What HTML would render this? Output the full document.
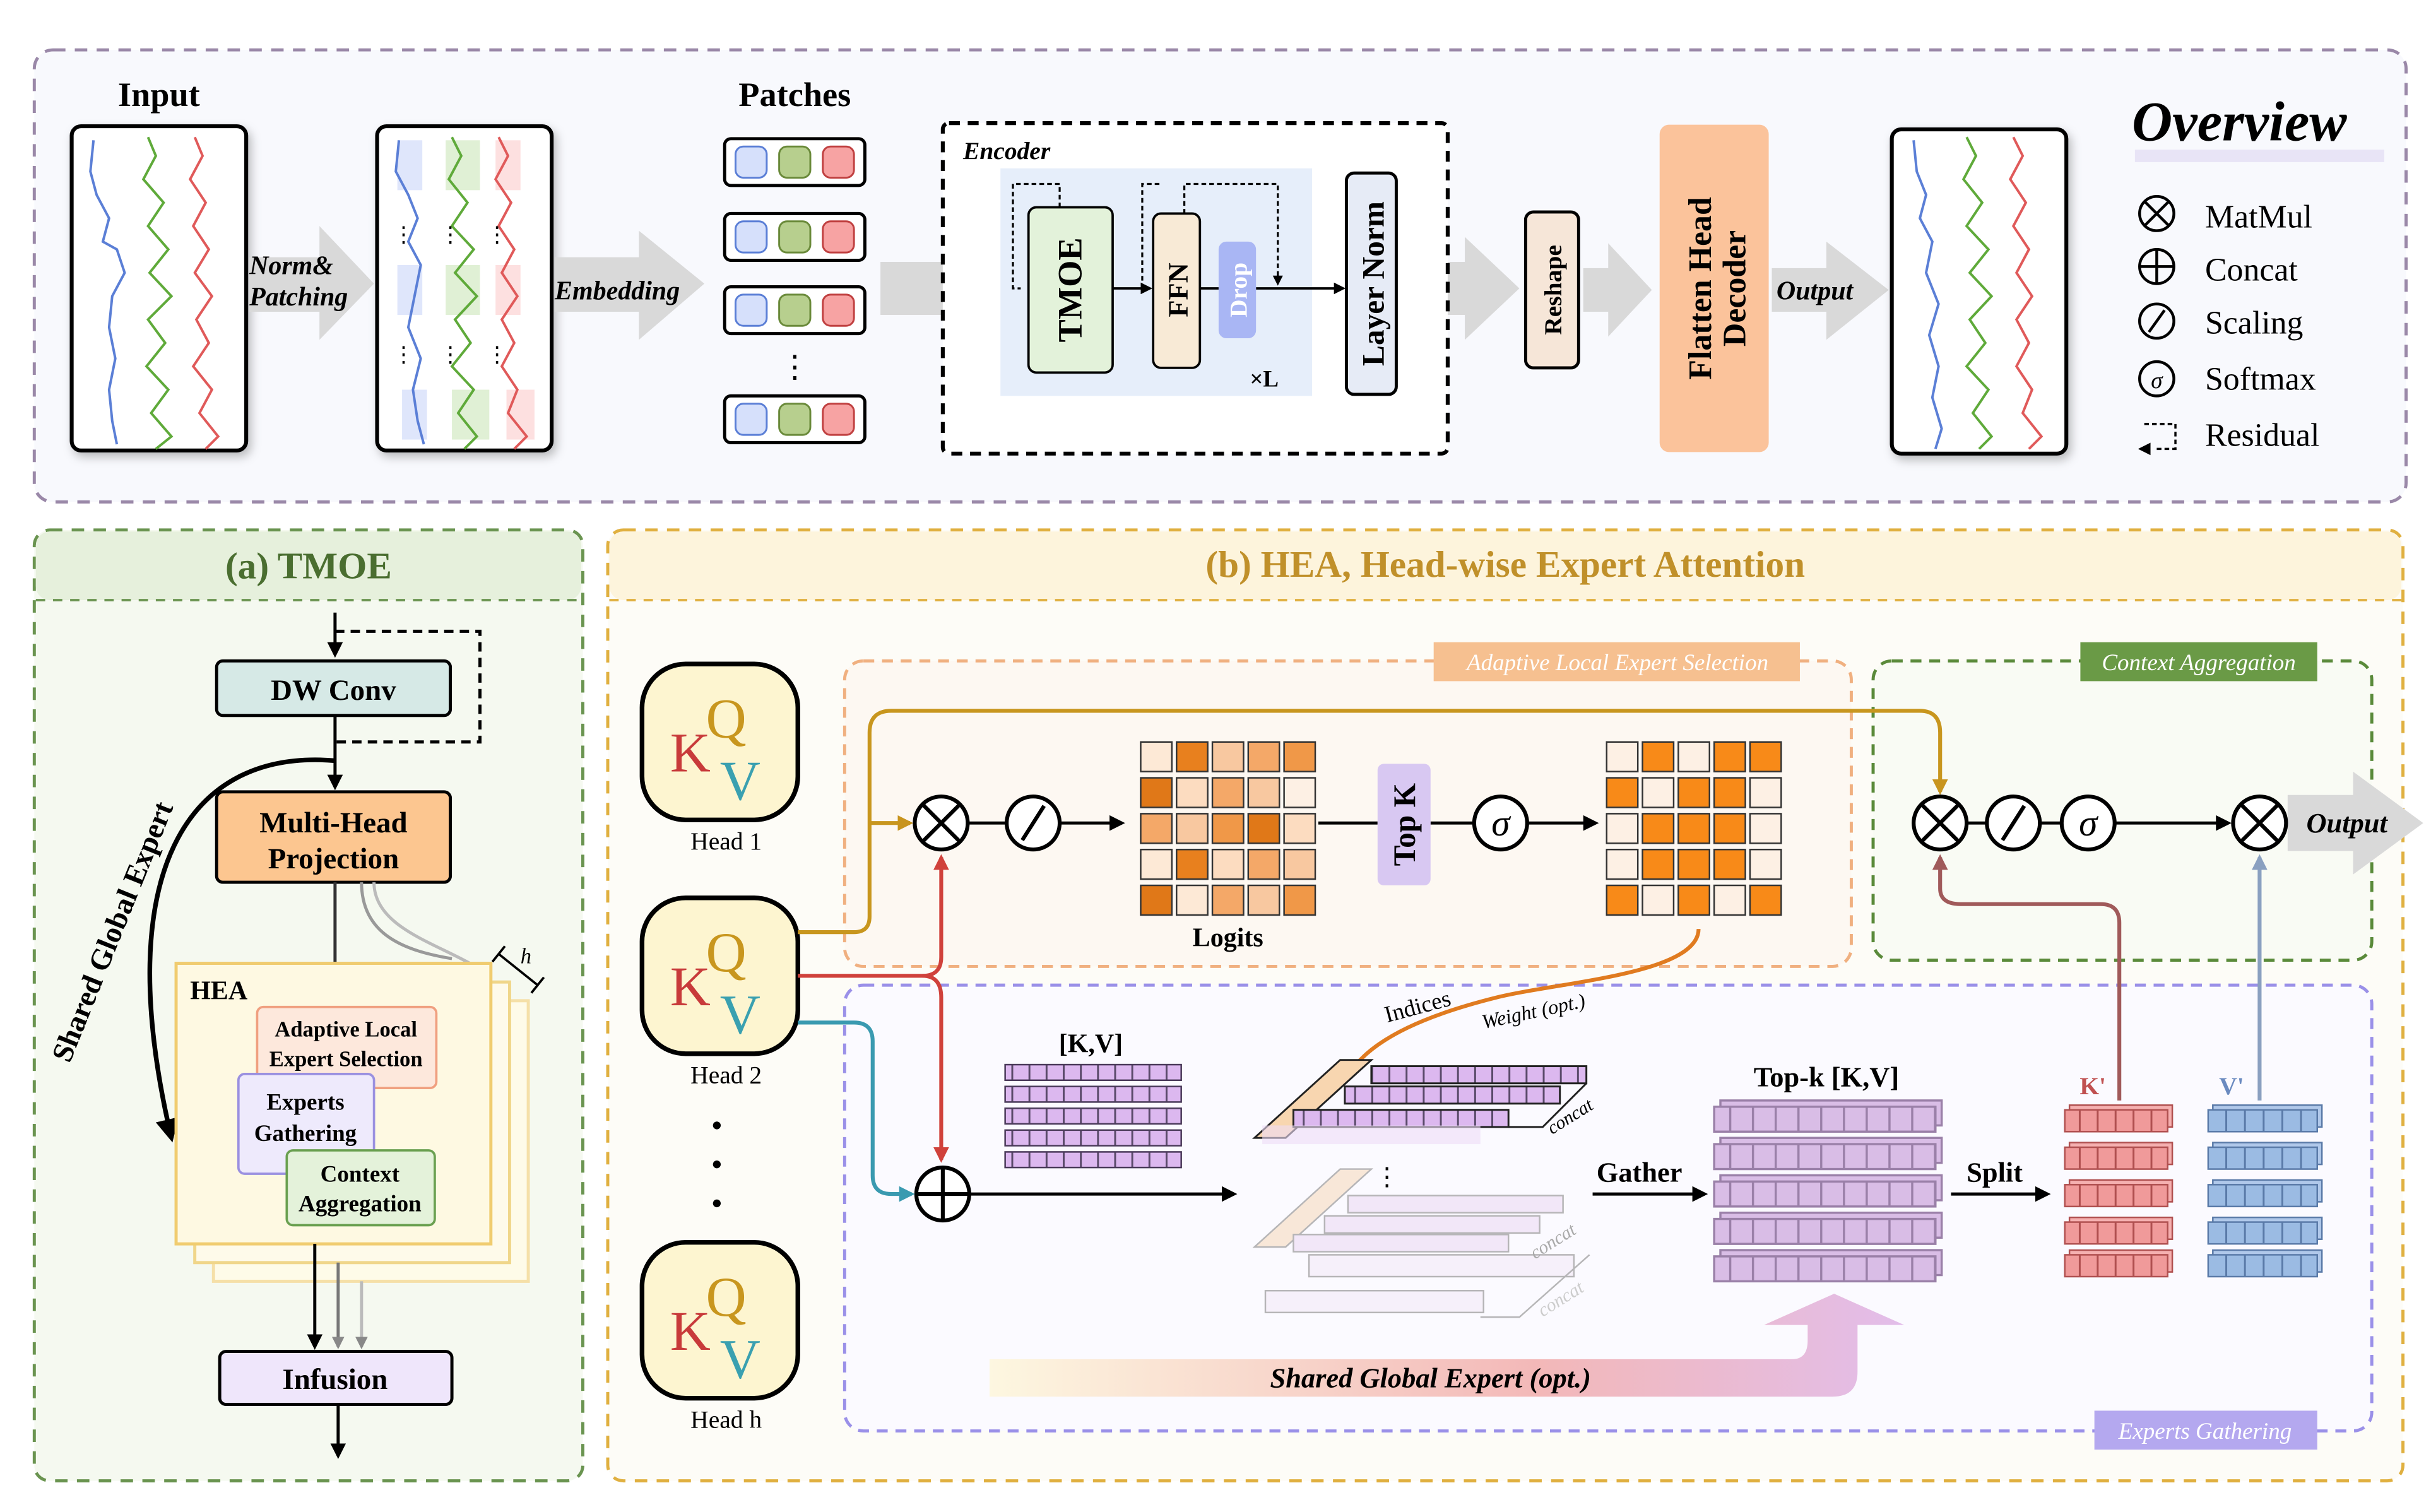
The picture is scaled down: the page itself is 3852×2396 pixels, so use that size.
<!DOCTYPE html>
<html><head><meta charset="utf-8"><style>
html,body{margin:0;padding:0;background:#fff}
svg{display:block}
text{font-family:"Liberation Serif",serif}
</style></head><body>
<svg width="3852" height="2396" viewBox="0 0 1560 970" preserveAspectRatio="none" xmlns="http://www.w3.org/2000/svg">
<defs>
<marker id="ah" viewBox="0 0 10 10" refX="8" refY="5" markerWidth="5" markerHeight="5" orient="auto"><path d="M0,0L10,5L0,10z" fill="#000"/></marker>
<marker id="ahr" viewBox="0 0 10 10" refX="8" refY="5" markerWidth="4" markerHeight="4" orient="auto"><path d="M0,0L10,5L0,10z" fill="#d0413b"/></marker>
<marker id="aho" viewBox="0 0 10 10" refX="8" refY="5" markerWidth="4" markerHeight="4" orient="auto"><path d="M0,0L10,5L0,10z" fill="#c8941e"/></marker>
<marker id="ahb" viewBox="0 0 10 10" refX="8" refY="5" markerWidth="4" markerHeight="4" orient="auto"><path d="M0,0L10,5L0,10z" fill="#3a9ab0"/></marker>
<marker id="ahk" viewBox="0 0 10 10" refX="8" refY="5" markerWidth="4" markerHeight="4" orient="auto"><path d="M0,0L10,5L0,10z" fill="#a05a5a"/></marker>
<marker id="ahv" viewBox="0 0 10 10" refX="8" refY="5" markerWidth="4" markerHeight="4" orient="auto"><path d="M0,0L10,5L0,10z" fill="#8aa0c0"/></marker>
<marker id="ahor" viewBox="0 0 10 10" refX="8" refY="5" markerWidth="4" markerHeight="4" orient="auto"><path d="M0,0L10,5L0,10z" fill="#e07b20"/></marker>
<marker id="ahg" viewBox="0 0 10 10" refX="8" refY="5" markerWidth="4" markerHeight="4" orient="auto"><path d="M0,0L10,5L0,10z" fill="#888"/></marker>
<pattern id="cellP" width="11" height="12" patternUnits="userSpaceOnUse"><rect width="11" height="12" fill="#dcb8ef"/><rect width="1.2" height="12" fill="#5a4a6a"/></pattern>
<pattern id="cellT" width="14.6" height="16" patternUnits="userSpaceOnUse"><rect width="14.6" height="16" fill="#d9bde6"/><rect width="1.4" height="16" fill="#9a80a8"/></pattern>
<pattern id="cellK" width="11.5" height="14" patternUnits="userSpaceOnUse"><rect width="11.5" height="14" fill="#f09a9a"/><rect width="1.2" height="14" fill="#b05050"/></pattern>
<pattern id="cellV" width="12" height="14" patternUnits="userSpaceOnUse"><rect width="12" height="14" fill="#9bbbe3"/><rect width="1.2" height="14" fill="#5a7aa8"/></pattern>
<linearGradient id="sge" x1="0" x2="1"><stop offset="0" stop-color="#fdf7e0"/><stop offset="0.6" stop-color="#f3b8b8"/><stop offset="1" stop-color="#e2bdea"/></linearGradient>
<filter id="sh"><feDropShadow dx="2" dy="3" stdDeviation="3" flood-opacity="0.25"/></filter>
</defs>

<rect x="22" y="32" width="1522" height="290" rx="12" fill="#f8f9fd" stroke="#9a88a8" stroke-width="2" stroke-dasharray="8,6"/>
<text x="102" y="68" font-size="22" font-weight="bold" text-anchor="middle">Input</text>
<text x="510" y="68" font-size="22" font-weight="bold" text-anchor="middle">Patches</text>
<text x="1437" y="90" font-size="36" font-weight="bold" font-style="italic" text-anchor="middle">Overview</text>
<rect x="1370" y="96" width="160" height="8" fill="#e8e4f6"/>

<g filter="url(#sh)"><rect x="46" y="81" width="112" height="208" rx="6" fill="#fff" stroke="#000" stroke-width="2.5"/></g>
<polyline fill="none" stroke="#5b7fd6" stroke-width="1.6" points="60,90 58,110 62,125 70,140 66,155 75,160 80,175 72,190 70,210 74,230 70,250 72,270 75,285"/>
<polyline fill="none" stroke="#5faa3a" stroke-width="1.6" points="95,88 100,100 92,115 105,130 95,145 108,160 96,175 110,190 95,205 106,220 94,235 108,250 97,265 110,280 100,288"/>
<polyline fill="none" stroke="#e05a5a" stroke-width="1.6" points="125,88 130,100 122,115 132,130 124,145 134,160 125,175 136,190 126,205 134,220 124,235 136,250 128,265 140,280 132,288"/>
<g filter="url(#sh)"><rect x="242" y="81" width="112" height="208" rx="6" fill="#fff" stroke="#000" stroke-width="2.5"/></g>
<rect x="255" y="90" width="16" height="32" fill="#dfe6fb"/><rect x="286" y="90" width="22" height="32" fill="#e0f0d5"/><rect x="318" y="90" width="16" height="32" fill="#fde0e0"/>
<rect x="255" y="170" width="16" height="32" fill="#dfe6fb"/><rect x="286" y="170" width="22" height="32" fill="#e0f0d5"/><rect x="318" y="170" width="16" height="32" fill="#fde0e0"/>
<rect x="258" y="250" width="16" height="32" fill="#dfe6fb"/><rect x="290" y="250" width="24" height="32" fill="#e0f0d5"/><rect x="325" y="250" width="18" height="32" fill="#fde0e0"/>
<polyline fill="none" stroke="#5b7fd6" stroke-width="1.6" points="256,90 254,110 262,125 268,140 262,155 270,170 266,190 262,210 270,230 265,250 268,270 272,285"/>
<polyline fill="none" stroke="#5faa3a" stroke-width="1.6" points="290,88 296,100 288,115 300,130 290,145 304,160 292,175 306,190 292,205 302,220 290,235 304,250 294,265 306,280 298,288"/>
<polyline fill="none" stroke="#e05a5a" stroke-width="1.6" points="320,88 326,100 318,115 328,130 320,145 330,160 322,175 332,190 322,205 330,220 322,235 332,250 326,265 338,280 330,288"/>
<text x="252" y="155" font-size="14">⋮</text><text x="282" y="155" font-size="14">⋮</text><text x="312" y="155" font-size="14">⋮</text>
<text x="252" y="232" font-size="14">⋮</text><text x="282" y="232" font-size="14">⋮</text><text x="312" y="232" font-size="14">⋮</text>

<g fill="#d9d9d9">
<polygon points="160,165 205,165 205,145 240,182 205,218 205,200 160,200"/>
<polygon points="356,165 410,165 410,148 452,182 410,218 410,200 356,200"/>
<polygon points="565,168 615,168 615,150 655,185 615,220 615,202 565,202"/>
<polygon points="898,168 940,168 940,152 975,185 940,218 940,202 898,202"/>
<polygon points="1016,172 1032,172 1032,156 1060,186 1032,216 1032,200 1016,200"/>
<polygon points="1137,172 1172,172 1172,155 1212,186 1172,218 1172,200 1137,200"/>
</g>
<text x="160" y="176" font-size="17" font-style="italic" font-weight="bold">Norm&amp;</text>
<text x="160" y="196" font-size="17" font-style="italic" font-weight="bold">Patching</text>
<text x="356" y="192" font-size="17" font-style="italic" font-weight="bold">Embedding</text>
<text x="1140" y="192" font-size="17" font-style="italic" font-weight="bold">Output</text>

<g stroke="#000" stroke-width="2">
<rect x="465" y="89" width="90" height="30" rx="4" fill="#fff"/>
<rect x="465" y="137" width="90" height="30" rx="4" fill="#fff"/>
<rect x="465" y="184" width="90" height="30" rx="4" fill="#fff"/>
<rect x="465" y="254" width="90" height="30" rx="4" fill="#fff"/>
</g>
<g stroke-width="1.2">
<g><rect x="472" y="94" width="20" height="20" rx="5" fill="#d6e0fb" stroke="#5b7fd6"/><rect x="500" y="94" width="20" height="20" rx="5" fill="#b7cf8e" stroke="#6a8a3a"/><rect x="528" y="94" width="20" height="20" rx="5" fill="#f7a3a3" stroke="#c04040"/></g>
<g transform="translate(0,48)"><rect x="472" y="94" width="20" height="20" rx="5" fill="#d6e0fb" stroke="#5b7fd6"/><rect x="500" y="94" width="20" height="20" rx="5" fill="#b7cf8e" stroke="#6a8a3a"/><rect x="528" y="94" width="20" height="20" rx="5" fill="#f7a3a3" stroke="#c04040"/></g>
<g transform="translate(0,95)"><rect x="472" y="94" width="20" height="20" rx="5" fill="#d6e0fb" stroke="#5b7fd6"/><rect x="500" y="94" width="20" height="20" rx="5" fill="#b7cf8e" stroke="#6a8a3a"/><rect x="528" y="94" width="20" height="20" rx="5" fill="#f7a3a3" stroke="#c04040"/></g>
<g transform="translate(0,165)"><rect x="472" y="94" width="20" height="20" rx="5" fill="#d6e0fb" stroke="#5b7fd6"/><rect x="500" y="94" width="20" height="20" rx="5" fill="#b7cf8e" stroke="#6a8a3a"/><rect x="528" y="94" width="20" height="20" rx="5" fill="#f7a3a3" stroke="#c04040"/></g>
</g>
<text x="510" y="242" font-size="20" text-anchor="middle">⋮</text>

<rect x="605" y="79" width="324" height="212" rx="4" fill="#fff" stroke="#000" stroke-width="2.5" stroke-dasharray="7,5"/>
<text x="618" y="102" font-size="16" font-style="italic" font-weight="bold">Encoder</text>
<rect x="642" y="108" width="200" height="146" fill="#e6eefa"/>
<path d="M680,133 L680,118 L650,118 L650,185 L655,185" fill="none" stroke="#000" stroke-width="1.3" stroke-dasharray="3,2"/>
<path d="M760,137 L760,118 L820,118 L820,182" fill="none" stroke="#000" stroke-width="1.3" stroke-dasharray="3,2" marker-end="url(#ah)"/>
<path d="M733,185 L733,118 L745,118" fill="none" stroke="#000" stroke-width="1.3" stroke-dasharray="3,2"/>
<line x1="714" y1="185" x2="738" y2="185" stroke="#000" stroke-width="1.5" marker-end="url(#ah)"/>
<line x1="770" y1="185" x2="782" y2="185" stroke="#000" stroke-width="1.5"/>
<line x1="806" y1="185" x2="862" y2="185" stroke="#000" stroke-width="1.5" marker-end="url(#ah)"/>
<rect x="660" y="133" width="54" height="106" rx="5" fill="#e3f2da" stroke="#000" stroke-width="1.5"/>
<text transform="translate(694,186) rotate(-90)" font-size="22" font-weight="bold" text-anchor="middle">TMOE</text>
<rect x="740" y="137" width="30" height="99" rx="5" fill="#f8ead6" stroke="#000" stroke-width="1.5"/>
<text transform="translate(762,186) rotate(-90)" font-size="18" font-weight="bold" text-anchor="middle">FFN</text>
<rect x="782" y="155" width="24" height="62" rx="5" fill="#a9b6f4"/>
<text transform="translate(800,186) rotate(-90)" font-size="16" font-weight="bold" fill="#fff" text-anchor="middle">Drop</text>
<text x="802" y="248" font-size="15" font-weight="bold">×L</text>
<rect x="864" y="111" width="32" height="142" rx="5" fill="#e6ebf6" stroke="#000" stroke-width="2"/>
<text transform="translate(888,182) rotate(-90)" font-size="20" font-weight="bold" text-anchor="middle">Layer Norm</text>
<rect x="979" y="136" width="34" height="100" rx="5" fill="#f6e6d8" stroke="#000" stroke-width="2"/>
<text transform="translate(1002,186) rotate(-90)" font-size="16" font-weight="bold" text-anchor="middle">Reshape</text>
<rect x="1065" y="80" width="70" height="210" rx="6" fill="#fbc39b"/>
<text transform="translate(1098,185) rotate(-90)" font-size="21" font-weight="bold" text-anchor="middle">Flatten Head</text>
<text transform="translate(1120,185) rotate(-90)" font-size="21" font-weight="bold" text-anchor="middle">Decoder</text>

<g filter="url(#sh)"><rect x="1214" y="83" width="112" height="208" rx="6" fill="#fff" stroke="#000" stroke-width="2.5"/></g>
<polyline fill="none" stroke="#5b7fd6" stroke-width="1.6" points="1228,90 1230,110 1236,125 1232,140 1240,155 1236,175 1244,195 1238,215 1244,235 1240,255 1246,275 1242,288"/>
<polyline fill="none" stroke="#5faa3a" stroke-width="1.6" points="1262,88 1268,100 1260,115 1272,130 1262,145 1276,160 1264,175 1278,190 1264,205 1274,220 1262,235 1276,250 1266,265 1278,280 1270,288"/>
<polyline fill="none" stroke="#e05a5a" stroke-width="1.6" points="1292,88 1298,100 1290,115 1300,130 1292,145 1302,160 1294,175 1304,190 1294,205 1302,220 1294,235 1304,250 1298,265 1310,280 1302,288"/>

<g stroke="#000" stroke-width="1.8" fill="none">
<circle cx="1384" cy="137" r="11"/><path d="M1376,129L1392,145M1392,129L1376,145"/>
<circle cx="1384" cy="171" r="11"/><path d="M1373,171H1395M1384,160V182"/>
<circle cx="1384" cy="206" r="11"/><path d="M1379,213L1389,199"/>
<circle cx="1384" cy="243" r="11"/>
<path d="M1376,272H1396V288H1382" stroke-dasharray="3,2" stroke-width="1.4"/>
</g>
<text x="1384" y="249" font-size="15" font-style="italic" text-anchor="middle">σ</text>
<path d="M1372,288L1380,284L1380,292z" fill="#000"/>
<g font-size="21"><text x="1415" y="146">MatMul</text><text x="1415" y="180">Concat</text><text x="1415" y="214">Scaling</text><text x="1415" y="250">Softmax</text><text x="1415" y="286">Residual</text></g>

<!-- Panel (a) -->
<rect x="22" y="340" width="352" height="610" rx="10" fill="#f5f9f0" stroke="#6a9450" stroke-width="2" stroke-dasharray="8,6"/>
<rect x="23" y="341" width="350" height="44" rx="9" fill="#e6f0dc"/>
<line x1="23" y1="385" x2="373" y2="385" stroke="#6a9450" stroke-width="1.5" stroke-dasharray="6,5"/>
<text x="198" y="371" font-size="24" font-weight="bold" fill="#4a6e30" text-anchor="middle">(a) TMOE</text>
<line x1="215" y1="393" x2="215" y2="420" stroke="#000" stroke-width="2" marker-end="url(#ah)"/>
<path d="M215,405 H308 V476 H215" fill="none" stroke="#000" stroke-width="2" stroke-dasharray="6,4"/>
<rect x="139" y="424" width="150" height="35" rx="4" fill="#d6e9e6" stroke="#000" stroke-width="2"/>
<text x="214" y="449" font-size="19" font-weight="bold" text-anchor="middle">DW Conv</text>
<line x1="215" y1="459" x2="215" y2="505" stroke="#000" stroke-width="2" marker-end="url(#ah)"/>
<path d="M215,488 C120,480 70,560 110,730" fill="none" stroke="#000" stroke-width="3" marker-end="url(#ah)"/>
<text transform="translate(78,600) rotate(-68)" font-size="19" font-weight="bold" text-anchor="middle">Shared Global Expert</text>
<rect x="139" y="508" width="150" height="58" rx="4" fill="#fcc690" stroke="#000" stroke-width="2"/>
<text x="214" y="534" font-size="19" font-weight="bold" text-anchor="middle">Multi-Head</text>
<text x="214" y="557" font-size="19" font-weight="bold" text-anchor="middle">Projection</text>
<path d="M215,566 V620" stroke="#333" stroke-width="2"/>
<path d="M232,566 C232,600 260,610 290,615" fill="none" stroke="#999" stroke-width="2"/>
<path d="M240,566 C240,595 280,605 305,620" fill="none" stroke="#bbb" stroke-width="2"/>
<rect x="137" y="642" width="202" height="180" fill="#fefbe8" stroke="#f5e0a8" stroke-width="2"/>
<rect x="125" y="630" width="202" height="180" fill="#fefaea" stroke="#f0d68a" stroke-width="2"/>
<rect x="113" y="618" width="202" height="180" fill="#fef9e2" stroke="#f0cc70" stroke-width="2"/>
<path d="M320,612 L345,632 M316,617 L324,607 M341,637 L349,627" stroke="#000" stroke-width="1.5"/>
<text x="334" y="618" font-size="14" font-style="italic">h</text>
<text x="122" y="641" font-size="17" font-weight="bold">HEA</text>
<rect x="165" y="646" width="115" height="52" rx="4" fill="#fde8dc" stroke="#f0a080" stroke-width="1.5"/>
<text x="222" y="665" font-size="14" font-weight="bold" text-anchor="middle">Adaptive Local</text>
<text x="222" y="684" font-size="14" font-weight="bold" text-anchor="middle">Expert Selection</text>
<rect x="153" y="689" width="87" height="64" rx="4" fill="#eeeafc" stroke="#9a90e0" stroke-width="1.5"/>
<text x="196" y="712" font-size="15" font-weight="bold" text-anchor="middle">Experts</text>
<text x="196" y="732" font-size="15" font-weight="bold" text-anchor="middle">Gathering</text>
<rect x="184" y="738" width="95" height="48" rx="4" fill="#e4f2da" stroke="#6aa050" stroke-width="1.5"/>
<text x="231" y="758" font-size="15" font-weight="bold" text-anchor="middle">Context</text>
<text x="231" y="777" font-size="15" font-weight="bold" text-anchor="middle">Aggregation</text>
<line x1="202" y1="798" x2="202" y2="864" stroke="#000" stroke-width="2" marker-end="url(#ah)"/>
<line x1="217" y1="810" x2="217" y2="864" stroke="#777" stroke-width="2" marker-end="url(#ahg)"/>
<line x1="232" y1="822" x2="232" y2="864" stroke="#bbb" stroke-width="2" marker-end="url(#ahg)"/>
<rect x="141" y="867" width="149" height="34" rx="4" fill="#efe6fb" stroke="#000" stroke-width="2"/>
<text x="215" y="891" font-size="19" font-weight="bold" text-anchor="middle">Infusion</text>
<line x1="217" y1="901" x2="217" y2="934" stroke="#000" stroke-width="2" marker-end="url(#ah)"/>

<!-- Panel (b) -->
<rect x="390" y="340" width="1152" height="610" rx="10" fill="#fdfcf7" stroke="#e0b040" stroke-width="2" stroke-dasharray="8,6"/>
<rect x="391" y="341" width="1150" height="44" rx="9" fill="#fdf4dc"/>
<line x1="391" y1="385" x2="1541" y2="385" stroke="#e0b040" stroke-width="1.5" stroke-dasharray="6,5"/>
<text x="966" y="370" font-size="24" font-weight="bold" fill="#c0902a" text-anchor="middle">(b) HEA, Head-wise Expert Attention</text>

<rect x="542" y="424" width="646" height="196" rx="12" fill="#fdf8f2" stroke="#f0b080" stroke-width="2" stroke-dasharray="7,5"/>
<rect x="920" y="412" width="235" height="25" fill="#f6c090"/>
<text x="1038" y="430" font-size="15" font-style="italic" fill="#fff" text-anchor="middle">Adaptive Local Expert Selection</text>
<rect x="1202" y="424" width="320" height="192" rx="12" fill="#f9fbf4" stroke="#5a8a3a" stroke-width="2" stroke-dasharray="7,5"/>
<rect x="1335" y="412" width="152" height="25" fill="#6a9a46"/>
<text x="1411" y="430" font-size="15" font-style="italic" fill="#fff" text-anchor="middle">Context Aggregation</text>
<rect x="542" y="632" width="980" height="286" rx="12" fill="#fbfaff" stroke="#9a90e8" stroke-width="2" stroke-dasharray="7,5"/>
<rect x="1344" y="905" width="143" height="25" fill="#b4a8ef"/>
<text x="1415" y="923" font-size="15" font-style="italic" fill="#fff" text-anchor="middle">Experts Gathering</text>

<polygon points="1468,510 1510,510 1510,495 1555,528 1510,561 1510,546 1468,546" fill="#d9d9d9"/>

<g stroke="#000" stroke-width="3" fill="#fdf5d0">
<rect x="412" y="426" width="100" height="100" rx="28"/>
<rect x="412" y="576" width="100" height="100" rx="28"/>
<rect x="412" y="797" width="100" height="100" rx="28"/>
</g>
<g font-size="36">
<text x="430" y="495" fill="#c83a3a">K</text><text x="453" y="473" fill="#c8961e">Q</text><text x="462" y="513" fill="#3aa0b0">V</text>
<text x="430" y="645" fill="#c83a3a">K</text><text x="453" y="623" fill="#c8961e">Q</text><text x="462" y="663" fill="#3aa0b0">V</text>
<text x="430" y="866" fill="#c83a3a">K</text><text x="453" y="844" fill="#c8961e">Q</text><text x="462" y="884" fill="#3aa0b0">V</text>
</g>
<g font-size="16" text-anchor="middle"><text x="466" y="545">Head 1</text><text x="466" y="695">Head 2</text><text x="466" y="916">Head h</text></g>
<g fill="#000"><circle cx="460" cy="722" r="2.5"/><circle cx="460" cy="747" r="2.5"/><circle cx="460" cy="772" r="2.5"/></g>

<path d="M512,598 H548 Q558,598 558,588 V470 Q558,456 572,456 H1232 Q1245,456 1245,470 V508" fill="none" stroke="#c8961e" stroke-width="2.5" marker-end="url(#aho)"/>
<path d="M558,528 H584" fill="none" stroke="#c8961e" stroke-width="2.5" marker-end="url(#aho)"/>
<path d="M512,626 H592 Q604,626 604,614 V550" fill="none" stroke="#d0413b" stroke-width="2.5" marker-end="url(#ahr)"/>
<path d="M592,626 Q604,626 604,640 V744" fill="none" stroke="#d0413b" stroke-width="2.5" marker-end="url(#ahr)"/>
<path d="M512,656 H548 Q560,656 560,668 V754 Q560,766 572,766 H585" fill="none" stroke="#3a9ab0" stroke-width="2.5" marker-end="url(#ahb)"/>
<path d="M1360,706 V592 Q1360,580 1348,580 H1258 Q1245,580 1245,570 V550" fill="none" stroke="#a05a5a" stroke-width="2.5" marker-end="url(#ahk)"/>
<path d="M1450,706 V550" fill="none" stroke="#8aa0c0" stroke-width="2.5" marker-end="url(#ahv)"/>

<g stroke="#000" stroke-width="2.5" fill="#fff">
<circle cx="604" cy="528" r="17"/><circle cx="663" cy="528" r="17"/><circle cx="963" cy="528" r="17"/>
<circle cx="1245" cy="528" r="17"/><circle cx="1292" cy="528" r="17"/><circle cx="1340" cy="528" r="17"/><circle cx="1450" cy="528" r="17"/>
<circle cx="605" cy="766" r="17"/>
</g>
<g stroke="#000" stroke-width="2.5" fill="none">
<path d="M592,516L616,540M616,516L592,540"/><path d="M1233,516L1257,540M1257,516L1233,540"/><path d="M1438,516L1462,540M1462,516L1438,540"/>
<path d="M656,539L670,517"/><path d="M1285,539L1299,517"/>
<path d="M588,766H622M605,749V783"/>
</g>
<g font-size="24" font-style="italic" text-anchor="middle"><text x="963" y="536">σ</text><text x="1340" y="536">σ</text></g>
<g stroke="#000" stroke-width="2">
<line x1="621" y1="528" x2="646" y2="528"/>
<line x1="680" y1="528" x2="720" y2="528" marker-end="url(#ah)"/>
<line x1="846" y1="528" x2="884" y2="528"/>
<line x1="918" y1="528" x2="946" y2="528"/>
<line x1="980" y1="528" x2="1024" y2="528" marker-end="url(#ah)"/>
<line x1="1262" y1="528" x2="1275" y2="528"/><line x1="1309" y1="528" x2="1323" y2="528"/>
<line x1="1357" y1="528" x2="1430" y2="528" marker-end="url(#ah)"/>
<line x1="622" y1="766" x2="792" y2="766" marker-end="url(#ah)"/>
<line x1="1022" y1="766" x2="1094" y2="766" marker-end="url(#ah)"/>
<line x1="1252" y1="766" x2="1314" y2="766" marker-end="url(#ah)"/>
</g>
<text x="1480" y="534" font-size="18" font-weight="bold" font-style="italic">Output</text>
<rect x="884" y="490" width="34" height="78" rx="4" fill="#d8c8f2"/>
<text transform="translate(908,529) rotate(-90)" font-size="20" font-weight="bold" text-anchor="middle">Top K</text>

<g stroke="#333" stroke-width="1">
<rect x="732" y="476" width="20" height="19" fill="#fde9d6"/><rect x="755" y="476" width="20" height="19" fill="#e8801e"/><rect x="778" y="476" width="20" height="19" fill="#f8c8a0"/><rect x="801" y="476" width="20" height="19" fill="#f4a868"/><rect x="824" y="476" width="20" height="19" fill="#f09848"/>
<rect x="732" y="499" width="20" height="19" fill="#e07818"/><rect x="755" y="499" width="20" height="19" fill="#fcdcc0"/><rect x="778" y="499" width="20" height="19" fill="#f4a868"/><rect x="801" y="499" width="20" height="19" fill="#f8c8a0"/><rect x="824" y="499" width="20" height="19" fill="#fdf0e4"/>
<rect x="732" y="522" width="20" height="19" fill="#f4a868"/><rect x="755" y="522" width="20" height="19" fill="#f8c8a0"/><rect x="778" y="522" width="20" height="19" fill="#f09848"/><rect x="801" y="522" width="20" height="19" fill="#e07818"/><rect x="824" y="522" width="20" height="19" fill="#fcdcc0"/>
<rect x="732" y="545" width="20" height="19" fill="#fde9d6"/><rect x="755" y="545" width="20" height="19" fill="#e8801e"/><rect x="778" y="545" width="20" height="19" fill="#fcdcc0"/><rect x="801" y="545" width="20" height="19" fill="#f4a868"/><rect x="824" y="545" width="20" height="19" fill="#f8c8a0"/>
<rect x="732" y="568" width="20" height="19" fill="#e07818"/><rect x="755" y="568" width="20" height="19" fill="#fde9d6"/><rect x="778" y="568" width="20" height="19" fill="#f4a868"/><rect x="801" y="568" width="20" height="19" fill="#f8c8a0"/><rect x="824" y="568" width="20" height="19" fill="#f09848"/>
<rect x="1031" y="476" width="20" height="19" fill="#fdf0e4"/><rect x="1054" y="476" width="20" height="19" fill="#f88a18"/><rect x="1077" y="476" width="20" height="19" fill="#fdf0e4"/><rect x="1100" y="476" width="20" height="19" fill="#f88a18"/><rect x="1123" y="476" width="20" height="19" fill="#f88a18"/>
<rect x="1031" y="499" width="20" height="19" fill="#f88a18"/><rect x="1054" y="499" width="20" height="19" fill="#fdf0e4"/><rect x="1077" y="499" width="20" height="19" fill="#f88a18"/><rect x="1100" y="499" width="20" height="19" fill="#f88a18"/><rect x="1123" y="499" width="20" height="19" fill="#fdf0e4"/>
<rect x="1031" y="522" width="20" height="19" fill="#fdf0e4"/><rect x="1054" y="522" width="20" height="19" fill="#f88a18"/><rect x="1077" y="522" width="20" height="19" fill="#f88a18"/><rect x="1100" y="522" width="20" height="19" fill="#f88a18"/><rect x="1123" y="522" width="20" height="19" fill="#fdf0e4"/>
<rect x="1031" y="545" width="20" height="19" fill="#fdf0e4"/><rect x="1054" y="545" width="20" height="19" fill="#f88a18"/><rect x="1077" y="545" width="20" height="19" fill="#f88a18"/><rect x="1100" y="545" width="20" height="19" fill="#f88a18"/><rect x="1123" y="545" width="20" height="19" fill="#fdf0e4"/>
<rect x="1031" y="568" width="20" height="19" fill="#f88a18"/><rect x="1054" y="568" width="20" height="19" fill="#fdf0e4"/><rect x="1077" y="568" width="20" height="19" fill="#f88a18"/><rect x="1100" y="568" width="20" height="19" fill="#fdf0e4"/><rect x="1123" y="568" width="20" height="19" fill="#f88a18"/>
</g>
<text x="788" y="607" font-size="17" font-weight="bold" text-anchor="middle">Logits</text>
<path d="M1090,596 C1090,625 1000,630 960,640 C920,650 880,665 865,690" fill="none" stroke="#e07b20" stroke-width="2.5" marker-end="url(#ahor)"/>
<text transform="translate(890,656) rotate(-15)" font-size="15" font-family="Liberation Sans,sans-serif">Indices</text>
<text transform="translate(952,660) rotate(-12)" font-size="13" font-style="italic" font-family="Liberation Sans,sans-serif">Weight (opt.)</text>

<text x="700" y="675" font-size="17" font-weight="bold" text-anchor="middle">[K,V]</text>
<g stroke="#4a3a5a" stroke-width="1">
<rect x="645" y="683" width="113" height="10" fill="url(#cellP)"/><rect x="645" y="697" width="113" height="10" fill="url(#cellP)"/><rect x="645" y="711" width="113" height="10" fill="url(#cellP)"/><rect x="645" y="725" width="113" height="10" fill="url(#cellP)"/><rect x="645" y="739" width="113" height="10" fill="url(#cellP)"/>
</g>

<g stroke="#222" stroke-width="1.2">
<polygon points="805,730 860,680 880,680 825,730" fill="#f8d6b0"/>
<rect x="880" y="684" width="138" height="11" fill="url(#cellP)"/>
<rect x="863" y="697" width="138" height="11" fill="url(#cellP)"/>
<rect x="830" y="712" width="138" height="11" fill="url(#cellP)"/>
<polyline points="968,723 990,723 1018,695" fill="none"/>
</g>
<text transform="translate(996,728) rotate(-32)" font-size="12" font-style="italic" font-family="Liberation Sans,sans-serif">concat</text>
<rect x="810" y="722" width="140" height="12" fill="#eedcf6" opacity="0.6"/>
<text x="890" y="760" font-size="16" text-anchor="middle">⋮</text>
<g stroke="#999" stroke-width="1" opacity="0.7">
<polygon points="805,800 860,750 880,750 825,800" fill="#f8e0c8"/>
<rect x="865" y="767" width="138" height="11" fill="#efe0f6"/>
<rect x="850" y="780" width="138" height="11" fill="#efe0f6"/>
<rect x="830" y="792" width="138" height="11" fill="#efe0f6"/>
<rect x="840" y="805" width="170" height="14" fill="#f4ecf8"/>
<rect x="812" y="828" width="140" height="14" fill="#f4ecf8"/>
<polyline points="950,845 975,845 1020,805" fill="none"/>
</g>
<text transform="translate(985,808) rotate(-32)" font-size="12" font-style="italic" fill="#aaa" font-family="Liberation Sans,sans-serif">concat</text>
<text transform="translate(990,845) rotate(-32)" font-size="12" font-style="italic" fill="#ccc" font-family="Liberation Sans,sans-serif">concat</text>
<text x="1052" y="758" font-size="18" font-weight="bold" text-anchor="middle">Gather</text>
<text x="1280" y="758" font-size="18" font-weight="bold" text-anchor="middle">Split</text>

<text x="1172" y="697" font-size="18" font-weight="bold" text-anchor="middle">Top-k [K,V]</text>
<g stroke="#9a80a8" stroke-width="1.4">
<rect x="1104" y="706" width="142" height="16" fill="#d9bde6"/><rect x="1100" y="710" width="142" height="16" fill="url(#cellT)"/>
<rect x="1104" y="730" width="142" height="16" fill="#d9bde6"/><rect x="1100" y="734" width="142" height="16" fill="url(#cellT)"/>
<rect x="1104" y="754" width="142" height="16" fill="#d9bde6"/><rect x="1100" y="758" width="142" height="16" fill="url(#cellT)"/>
<rect x="1104" y="778" width="142" height="16" fill="#d9bde6"/><rect x="1100" y="782" width="142" height="16" fill="url(#cellT)"/>
<rect x="1104" y="802" width="142" height="16" fill="#d9bde6"/><rect x="1100" y="806" width="142" height="16" fill="url(#cellT)"/>
</g>
<text x="1343" y="702" font-size="16" font-weight="bold" fill="#c05050" text-anchor="middle">K'</text>
<text x="1432" y="702" font-size="16" font-weight="bold" fill="#6a8ac0" text-anchor="middle">V'</text>
<g stroke="#b05050" stroke-width="1">
<rect x="1328" y="709" width="66" height="14" fill="#f5b0b0"/><rect x="1325" y="712" width="66" height="14" fill="url(#cellK)"/>
<rect x="1328" y="733" width="66" height="14" fill="#f5b0b0"/><rect x="1325" y="736" width="66" height="14" fill="url(#cellK)"/>
<rect x="1328" y="757" width="66" height="14" fill="#f5b0b0"/><rect x="1325" y="760" width="66" height="14" fill="url(#cellK)"/>
<rect x="1328" y="781" width="66" height="14" fill="#f5b0b0"/><rect x="1325" y="784" width="66" height="14" fill="url(#cellK)"/>
<rect x="1328" y="802" width="66" height="14" fill="#f5b0b0"/><rect x="1325" y="805" width="66" height="14" fill="url(#cellK)"/>
</g>
<g stroke="#5a7aa8" stroke-width="1">
<rect x="1420" y="709" width="70" height="14" fill="#b0c8ea"/><rect x="1417" y="712" width="70" height="14" fill="url(#cellV)"/>
<rect x="1420" y="733" width="70" height="14" fill="#b0c8ea"/><rect x="1417" y="736" width="70" height="14" fill="url(#cellV)"/>
<rect x="1420" y="757" width="70" height="14" fill="#b0c8ea"/><rect x="1417" y="760" width="70" height="14" fill="url(#cellV)"/>
<rect x="1420" y="781" width="70" height="14" fill="#b0c8ea"/><rect x="1417" y="784" width="70" height="14" fill="url(#cellV)"/>
<rect x="1420" y="802" width="70" height="14" fill="#b0c8ea"/><rect x="1417" y="805" width="70" height="14" fill="url(#cellV)"/>
</g>

<path d="M635,872 H1150 Q1160,872 1160,860 V850 H1132 L1177,830 L1222,850 H1192 V880 Q1192,896 1176,896 H635 Z" fill="url(#sge)"/>
<text x="918" y="890" font-size="18" font-weight="bold" font-style="italic" text-anchor="middle">Shared Global Expert (opt.)</text>
</svg>
</body></html>
